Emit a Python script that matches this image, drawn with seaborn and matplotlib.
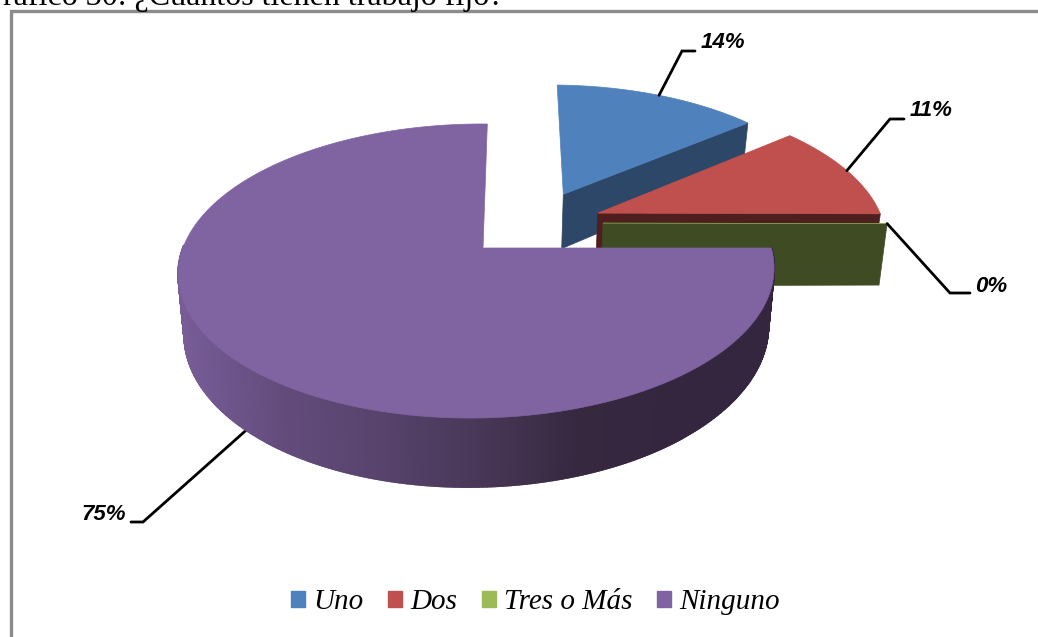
# 3D style pie of "¿Cuántos tienen trabajo fijo?"

import matplotlib
matplotlib.use("Agg")
import matplotlib.pyplot as plt
import matplotlib.patches as mpatches
import numpy as np
import seaborn as sns

categories = ["Uno", "Dos", "Tres o Más", "Ninguno"]
values = [14, 11, 0, 75]
title = "Gráfico 30: ¿Cuántos tienen trabajo fijo?"

top_colors = ["#4F81BD", "#C0504D", "#9BBB59", "#8064A2"]
wall_colors = ["#2C4768", "#4E1F1E", "#3F4B23", "#3A2A48"]
explode = [(0.285, 0.40), (0.405, 0.255), (0.42, 0.18), (0.0, 0.0)]
radius = [0.99, 1.035, 1.03, 1.0]
depth = [58, 58, 65, 58]
elbows = [[(682, 51), (695, 51)], [(890, 119), (904, 119)], [(950, 293), (970, 293)], [(143, 522), (131, 522)]]
label_pos = [(701, 43), (910, 111), (975, 287), (81, 514)]

# projection of the pie plane to image pixels
CX, CY = 483, 248
A, B, D = 294, 143.4, 5
K, M = 0.1565, 0.02


def project(u, v, drop=0.0):
    s = 1 / (1 + K * v + M * u)
    shrink = 1 - 0.02 * (drop > 0)
    return CX + (A * u + D * v) * s * shrink, CY - B * v * s + drop * s


sns.set_theme(style="white")
plt.rcParams["font.family"] = ["Liberation Serif", "DejaVu Serif"]

fig, ax = plt.subplots(1, 1)
fig.set_size_inches(10.38, 6.37)
ax.set_position([0, 0, 1, 1])
ax.set_xlim(0, 1038)
ax.set_ylim(637, 0)
ax.axis("off")

# chart frame and cropped caption
ax.plot([11, 11, 1038], [637, 11, 11], color="#8C8C8C", linewidth=2.4, solid_joinstyle="miter")
ax.text(-20, 5, title, fontsize=23, color="black", va="baseline", ha="left")

ends = np.cumsum(values) * 360 / np.sum(values)
starts = np.r_[0, ends[:-1]]


def slice_points(i, n=120):
    th = np.radians(np.linspace(starts[i], ends[i], n))
    u = explode[i][0] + radius[i] * np.sin(th)
    v = explode[i][1] + radius[i] * np.cos(th)
    return u, v


def draw_slice(i):
    eu, ev = explode[i]
    u, v = slice_points(i)
    # only the cut face at the end of the slice shows from this side
    px, py = project(np.array([eu, u[-1]]), np.array([ev, v[-1]]))
    qx, qy = project(np.array([u[-1], eu]), np.array([v[-1], ev]), depth[i])
    ax.fill(np.r_[px, qx], np.r_[py, qy], color=wall_colors[i], linewidth=0.5, zorder=i + 2)
    tx, ty = project(np.r_[eu, u], np.r_[ev, v])
    ax.fill(tx, ty, color=top_colors[i], linewidth=0.5, zorder=i + 2.5)


# back slices first, then the big one with a shaded rim
draw_slice(0)
draw_slice(2)
draw_slice(1)

i = 3
u, v = slice_points(i, n=600)
shades = sns.blend_palette(["#775C97", "#634C7C", "#57436C", "#483757", "#36283F", "#34263F", "#34263F"], n_colors=256)
for j in range(len(u) - 1):
    if v[j] > 0.02:
        continue
    sx, sy = project(u[j:j + 2], v[j:j + 2])
    rx, ry = project(u[j:j + 2][::-1], v[j:j + 2][::-1], depth[i])
    idx = int(np.clip((sx[0] - 180) / 600, 0, 1) * 255)
    ax.fill(np.r_[sx, rx], np.r_[sy, ry], color=shades[idx], linewidth=1.5, zorder=6)
tx, ty = project(np.r_[0, u], np.r_[0, v])
ax.fill(tx, ty, color=top_colors[i], linewidth=0.5, zorder=7)

# leader lines start on the rim at each slice's mid angle
for i, pct in enumerate(values):
    mid = np.radians((starts[i] + ends[i]) / 2)
    rim_u = explode[i][0] + radius[i] * np.sin(mid)
    rim_v = explode[i][1] + radius[i] * np.cos(mid)
    x0, y0 = project(rim_u, rim_v, depth[i] if i == 3 else 0)
    xs = [x0] + [p[0] for p in elbows[i]]
    ys = [y0] + [p[1] for p in elbows[i]]
    ax.plot(xs, ys, color="black", linewidth=2, zorder=5 if i == 3 else 8, solid_joinstyle="miter")
    ax.text(label_pos[i][0], label_pos[i][1], f"{pct}%", fontsize=16, style="italic", weight="bold",
            family=["Liberation Sans", "DejaVu Sans"], color="black", va="center", ha="left", zorder=9)

handles = [mpatches.Patch(color=c, label=n) for c, n in zip(top_colors, categories)]
ax.legend(handles=handles, ncol=4, frameon=False, loc="center", bbox_to_anchor=(535.5, 602),
          bbox_transform=ax.transData, fontsize=21, handlelength=0.48, handleheight=0.48,
          handletextpad=0.28, columnspacing=0.84, labelspacing=0, labelcolor="black")
for t in ax.get_legend().get_texts():
    t.set_style("italic")

plt.savefig("out.png", dpi=100)
